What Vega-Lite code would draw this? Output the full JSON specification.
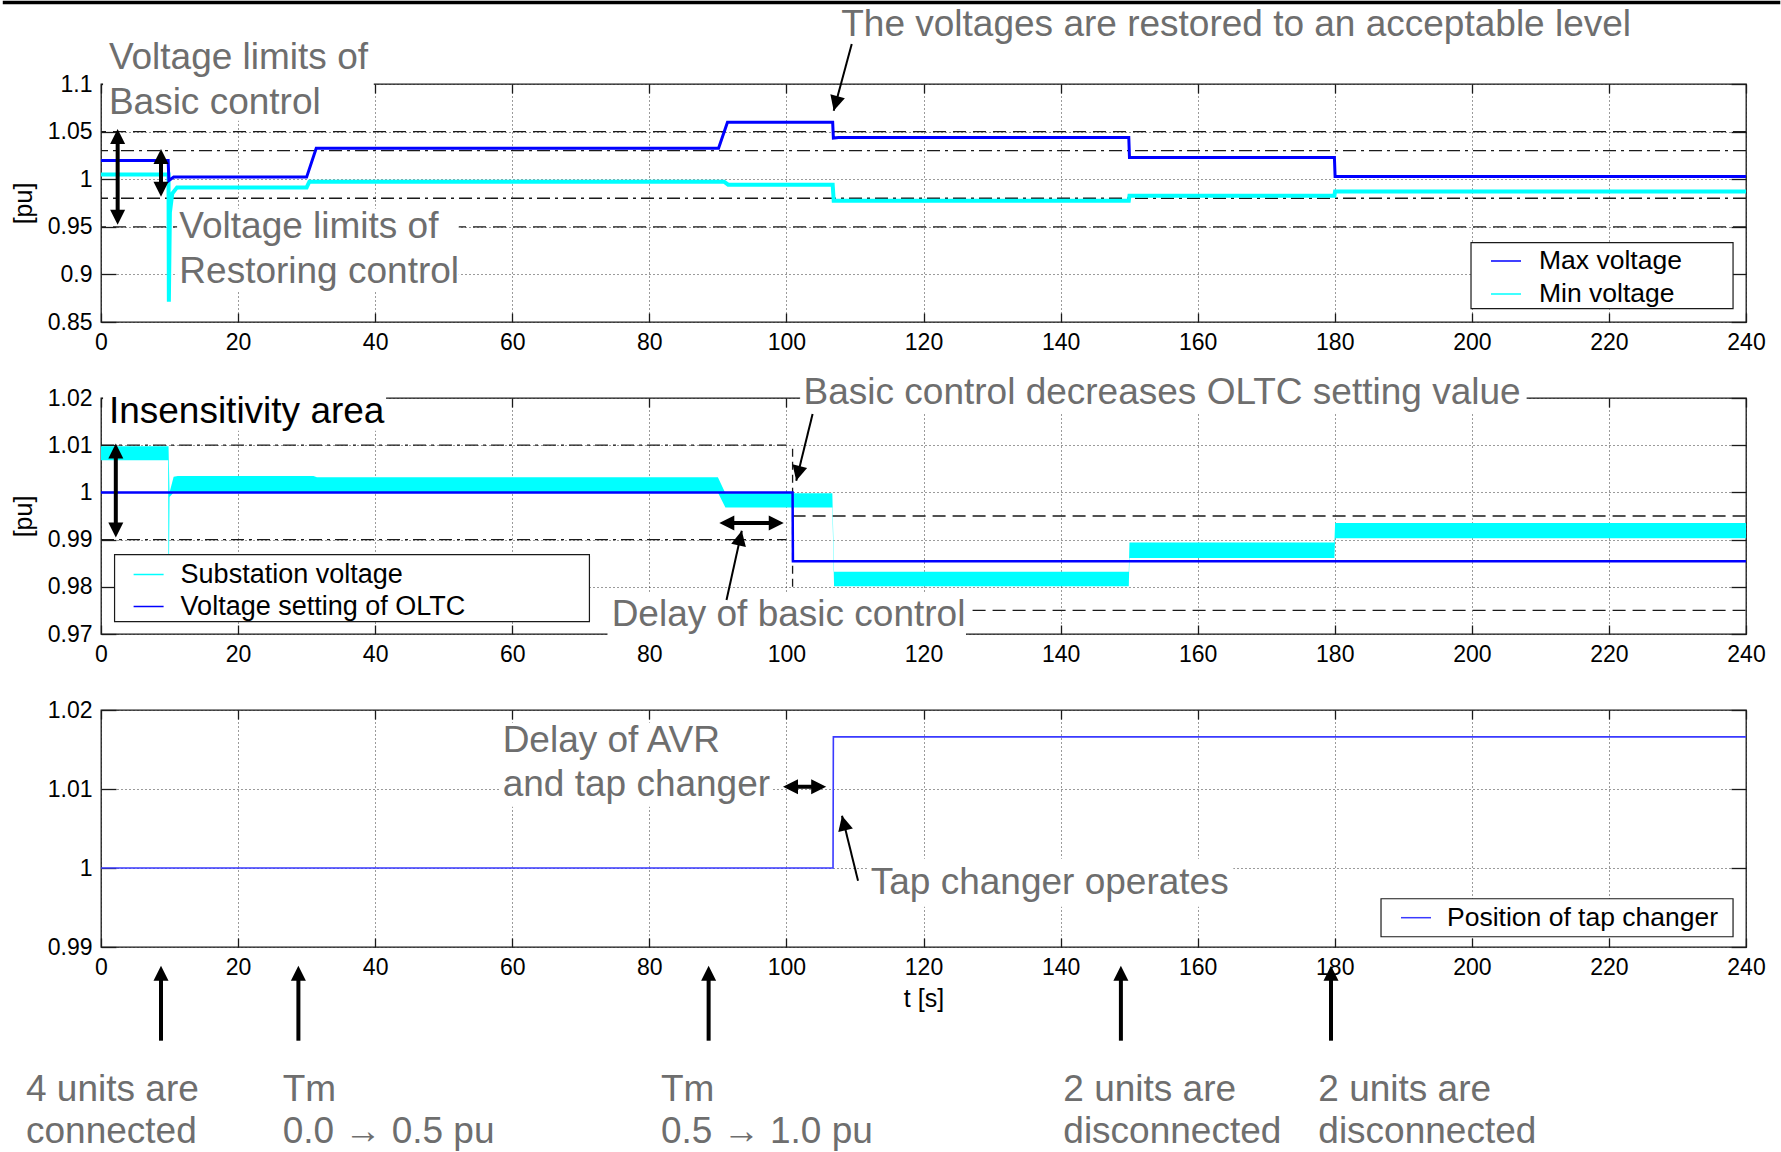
{
  "padding": 0,
  "background": "white",
  "autosize": {"type": "pad"},
  "spacing": 76,
  "bounds": "flush",
  "config": {
    "font": "Liberation Sans",
    "view": {"stroke": "#1a1a1a", "strokeWidth": 1.3},
    "axis": {
      "domain": false, "grid": true, "gridColor": "#222222", "gridDash": [1, 3], "gridWidth": 1, "gridOpacity": 0.9,
      "tickColor": "#1a1a1a", "tickWidth": 1.3,
      "labelFont": "Liberation Sans", "labelFontSize": 23, "labelColor": "#000000",
      "labelFlush": false, "labelOverlap": false,
      "titleFont": "Liberation Sans", "titleFontSize": 25, "titleFontWeight": "normal", "titleColor": "#000000"
    },
    "axisX": {"tickSize": -9, "labelPadding": 18},
    "axisY": {"tickSize": -15, "labelPadding": 24},
    "legend": {"labelFont": "Liberation Sans", "labelColor": "#000000", "strokeColor": "transparent", "fillColor": "transparent", "symbolType": "stroke", "symbolStrokeWidth": 1.5, "labelLimit": 1000}
  },
  "resolve": {"scale": {"color": "independent", "x": "independent", "y": "independent"}, "legend": {"color": "independent"}},
  "datasets": {
    "p1": [
      {"t": 0, "v": 1.0197, "s": "Max voltage"}, {"t": 9.8, "v": 1.0197, "s": "Max voltage"}, {"t": 9.9, "v": 0.9985, "s": "Max voltage"},
      {"t": 10.6, "v": 1.0022, "s": "Max voltage"}, {"t": 30.0, "v": 1.0022, "s": "Max voltage"}, {"t": 31.4, "v": 1.0324, "s": "Max voltage"},
      {"t": 90.1, "v": 1.0324, "s": "Max voltage"}, {"t": 91.4, "v": 1.0597, "s": "Max voltage"}, {"t": 106.75, "v": 1.0597, "s": "Max voltage"},
      {"t": 106.85, "v": 1.0432, "s": "Max voltage"}, {"t": 107.6, "v": 1.0439, "s": "Max voltage"}, {"t": 149.95, "v": 1.0439, "s": "Max voltage"},
      {"t": 150.05, "v": 1.0229, "s": "Max voltage"}, {"t": 179.95, "v": 1.0229, "s": "Max voltage"}, {"t": 180.05, "v": 1.0029, "s": "Max voltage"},
      {"t": 240, "v": 1.0029, "s": "Max voltage"},
      {"t": 0, "v": 1.005, "s": "Min voltage"}, {"t": 9.85, "v": 1.005, "s": "Min voltage"}, {"t": 9.9, "v": 0.8713, "s": "Min voltage"},
      {"t": 10.05, "v": 0.965, "s": "Min voltage"}, {"t": 10.4, "v": 0.985, "s": "Min voltage"}, {"t": 11.1, "v": 0.9914, "s": "Min voltage"},
      {"t": 30.0, "v": 0.9914, "s": "Min voltage"}, {"t": 30.4, "v": 0.9974, "s": "Min voltage"}, {"t": 90.9, "v": 0.9974, "s": "Min voltage"},
      {"t": 91.5, "v": 0.9942, "s": "Min voltage"}, {"t": 106.75, "v": 0.9942, "s": "Min voltage"}, {"t": 106.9, "v": 0.9774, "s": "Min voltage"},
      {"t": 149.95, "v": 0.9774, "s": "Min voltage"}, {"t": 150.05, "v": 0.9827, "s": "Min voltage"}, {"t": 179.95, "v": 0.9827, "s": "Min voltage"},
      {"t": 180.05, "v": 0.9872, "s": "Min voltage"}, {"t": 240, "v": 0.9872, "s": "Min voltage"}
    ],
    "band2": [
      {"t": 0, "v": 1.0068, "v2": 1.0098}, {"t": 9.8, "v": 1.0068, "v2": 1.0098}, {"t": 9.85, "v": 0.9722, "v2": 1.0098},
      {"t": 10.0, "v": 0.999, "v2": 1.0}, {"t": 10.6, "v": 1.0, "v2": 1.0033}, {"t": 11.2, "v": 1.0, "v2": 1.0035},
      {"t": 31.0, "v": 1.0, "v2": 1.0035}, {"t": 31.5, "v": 1.0, "v2": 1.0032}, {"t": 90.0, "v": 1.0, "v2": 1.0032},
      {"t": 91.1, "v": 0.9968, "v2": 0.9998}, {"t": 106.7, "v": 0.9968, "v2": 0.9998}, {"t": 106.95, "v": 0.9801, "v2": 0.9832},
      {"t": 149.95, "v": 0.9801, "v2": 0.9832}, {"t": 150.05, "v": 0.9861, "v2": 0.9894}, {"t": 179.95, "v": 0.9861, "v2": 0.9894},
      {"t": 180.05, "v": 0.9903, "v2": 0.9935}, {"t": 240, "v": 0.9903, "v2": 0.9935}
    ],
    "oltc2": [
      {"t": 0, "v": 1.0, "s": "Voltage setting of OLTC"}, {"t": 100.9, "v": 1.0, "s": "Voltage setting of OLTC"},
      {"t": 100.95, "v": 0.9854, "s": "Voltage setting of OLTC"}, {"t": 240, "v": 0.9854, "s": "Voltage setting of OLTC"}
    ],
    "tap3": [
      {"t": 0, "v": 1.0, "s": "Position of tap changer"}, {"t": 106.8, "v": 1.0, "s": "Position of tap changer"},
      {"t": 106.85, "v": 1.0166, "s": "Position of tap changer"}, {"t": 240, "v": 1.0166, "s": "Position of tap changer"}
    ],
    "box1": [{"t": 199.88, "t2": 238.11, "v": 0.9333, "v2": 0.86397}],
    "box2": [{"t": 1.98, "t2": 71.26, "v": 0.9868, "v2": 0.97261}],
    "box3": [{"t": 186.75, "t2": 238.11, "v": 0.99611, "v2": 0.9913}],
    "abox1": [
      {"t": 0.3, "t2": 39.8, "v": 1.156, "v2": 1.0614},
      {"t": 11.1, "t2": 52.2, "v": 0.969, "v2": 0.8829}
    ],
    "abox2": [
      {"t": 0.3, "t2": 41.6, "v": 1.02112, "v2": 1.01307},
      {"t": 102.0, "t2": 208.0, "v": 1.02451, "v2": 1.0169},
      {"t": 73.9, "t2": 126.2, "v": 0.97854, "v2": 0.96922}
    ],
    "abox3": [
      {"t": 58.1, "t2": 98.0, "v": 1.01839, "v2": 1.00776},
      {"t": 111.8, "t2": 165.2, "v": 1.00118, "v2": 0.9951}
    ],
    "ann1": [
      {"t": 1.15, "v": 1.11576, "txt": "Voltage limits of"},
      {"t": 1.15, "v": 1.06849, "txt": "Basic control"},
      {"t": 11.43, "v": 0.93824, "txt": "Voltage limits of"},
      {"t": 11.43, "v": 0.89055, "txt": "Restoring control"},
      {"t": 108.0, "v": 1.15074, "txt": "The voltages are restored to an acceptable level"}
    ],
    "ann2": [
      {"t": 102.5, "v": 1.01873, "txt": "Basic control decreases OLTC setting value"},
      {"t": 74.5, "v": 0.97176, "txt": "Delay of basic control"}
    ],
    "ann2b": [{"t": 1.15, "v": 1.01462, "txt": "Insensitivity area"}],
    "ann3": [
      {"t": 58.6, "v": 1.01463, "txt": "Delay of AVR"},
      {"t": 58.6, "v": 1.00915, "txt": "and tap changer"},
      {"t": 112.3, "v": 0.99671, "txt": "Tap changer operates"},
      {"t": -10.94, "v": 0.970456, "txt": "4 units are"}, {"t": -10.94, "v": 0.965165, "txt": "connected"},
      {"t": 26.5, "v": 0.970456, "txt": "Tm"}, {"t": 26.5, "v": 0.965165, "txt": "0.0 → 0.5 pu"},
      {"t": 81.7, "v": 0.970456, "txt": "Tm"}, {"t": 81.7, "v": 0.965165, "txt": "0.5 → 1.0 pu"},
      {"t": 140.4, "v": 0.970456, "txt": "2 units are"}, {"t": 140.4, "v": 0.965165, "txt": "disconnected"},
      {"t": 177.6, "v": 0.970456, "txt": "2 units are"}, {"t": 177.6, "v": 0.965165, "txt": "disconnected"}
    ],
    "thick1": [
      {"t": 2.43, "v": 1.04643, "t2": 2.43, "v2": 0.95851},
      {"t": 8.75, "v": 1.02542, "t2": 8.75, "v2": 0.98792}
    ],
    "thin1": [{"t": 109.53, "v": 1.14202, "t2": 106.9, "v2": 1.07195}],
    "heads1": [
      {"t": 2.43, "v": 1.05273, "ang": 0}, {"t": 2.43, "v": 0.95221, "ang": 180},
      {"t": 8.75, "v": 1.03172, "ang": 0}, {"t": 8.75, "v": 0.98162, "ang": 180},
      {"t": 106.9, "v": 1.07195, "ang": 195.1}
    ],
    "thick2": [
      {"t": 2.16, "v": 1.00911, "t2": 2.16, "v2": 0.99174},
      {"t": 91.085, "v": 0.99352, "t2": 98.735, "v2": 0.99352}
    ],
    "thin2": [
      {"t": 103.82, "v": 1.01661, "t2": 101.43, "v2": 1.00248},
      {"t": 91.26, "v": 0.9772, "t2": 93.49, "v2": 0.99189}
    ],
    "heads2": [
      {"t": 2.16, "v": 1.01038, "ang": 0}, {"t": 2.16, "v": 0.99047, "ang": 180},
      {"t": 90.21, "v": 0.99352, "ang": 270}, {"t": 99.61, "v": 0.99352, "ang": 90},
      {"t": 101.43, "v": 1.00248, "ang": 193.8}, {"t": 93.49, "v": 0.99189, "ang": 12.45}
    ],
    "thick3": [
      {"t": 100.375, "v": 1.01029, "t2": 104.925, "v2": 1.01029},
      {"t": 8.75, "v": 0.97814, "t2": 8.75, "v2": 0.98687},
      {"t": 28.8, "v": 0.97814, "t2": 28.8, "v2": 0.98687},
      {"t": 88.65, "v": 0.97814, "t2": 88.65, "v2": 0.98687},
      {"t": 148.8, "v": 0.97814, "t2": 148.8, "v2": 0.98687},
      {"t": 179.45, "v": 0.97814, "t2": 179.45, "v2": 0.98687}
    ],
    "thin3": [{"t": 110.45, "v": 0.99839, "t2": 108.11, "v2": 1.00662}],
    "heads3": [
      {"t": 99.5, "v": 1.01029, "ang": 270}, {"t": 105.8, "v": 1.01029, "ang": 90},
      {"t": 108.11, "v": 1.00662, "ang": 346.2},
      {"t": 8.75, "v": 0.98763, "ang": 0}, {"t": 28.8, "v": 0.98763, "ang": 0}, {"t": 88.65, "v": 0.98763, "ang": 0},
      {"t": 148.8, "v": 0.98763, "ang": 0}, {"t": 179.45, "v": 0.98763, "ang": 0}
    ]
  },
  "vconcat": [
    {
      "width": 1645, "height": 238,
      "resolve": {"axis": {"x": "independent", "y": "independent"}},
      "layer": [
        {"layer": [
          {"data": {"values": [{"v": 1.05}, {"v": 0.95}]}, "mark": {"type": "rule", "color": "#1a1a1a", "strokeWidth": 1.3, "strokeDash": [13, 7]}, "encoding": {"y": {"field": "v", "type": "quantitative"}}},
          {"data": {"values": [{"v": 1.03}, {"v": 0.98}]}, "mark": {"type": "rule", "color": "#1a1a1a", "strokeWidth": 1.3, "strokeDash": [13, 5, 3, 5]}, "encoding": {"y": {"field": "v", "type": "quantitative"}}},
          {"data": {"name": "abox1"}, "mark": {"type": "rect", "fill": "white", "strokeWidth": 0},
           "encoding": {"x": {"field": "t", "type": "quantitative"}, "x2": {"field": "t2"}, "y": {"field": "v", "type": "quantitative"}, "y2": {"field": "v2"}}},
          {"data": {"name": "p1"}, "transform": [{"filter": "datum.s === 'Min voltage'"}], "mark": {"type": "line"},
           "encoding": {
             "x": {"field": "t", "type": "quantitative", "scale": {"domain": [0, 240], "nice": false, "zero": false}, "axis": {"values": [0, 20, 40, 60, 80, 100, 120, 140, 160, 180, 200, 220, 240], "title": null}},
             "y": {"field": "v", "type": "quantitative", "scale": {"domain": [0.85, 1.1], "nice": false, "zero": false}, "axis": {"values": [0.85, 0.9, 0.95, 1, 1.05, 1.1], "format": "~g", "title": "[pu]", "titlePadding": 11}},
             "color": {"field": "s", "type": "nominal", "scale": {"domain": ["Max voltage", "Min voltage"], "range": ["#0000ff", "#00ffff"]},
               "legend": {"orient": "none", "legendX": 1370, "legendY": 159, "title": null, "padding": 2, "rowPadding": 3, "symbolSize": 900, "symbolStrokeWidth": 1.5, "symbolOffset": 17, "labelOffset": 17, "labelFontSize": 26.5}},
             "strokeWidth": {"value": 4}
           }},
          {"data": {"name": "p1"}, "transform": [{"filter": "datum.s === 'Max voltage'"}], "mark": {"type": "line"},
           "encoding": {"x": {"field": "t", "type": "quantitative"}, "y": {"field": "v", "type": "quantitative"}, "color": {"field": "s", "type": "nominal"}, "strokeWidth": {"value": 3}}},
          {"data": {"name": "box1"}, "mark": {"type": "rect", "fill": "white", "stroke": "#1a1a1a", "strokeWidth": 1.2},
           "encoding": {"x": {"field": "t", "type": "quantitative"}, "x2": {"field": "t2"}, "y": {"field": "v", "type": "quantitative"}, "y2": {"field": "v2"}}},
          {"data": {"name": "thick1"}, "mark": {"type": "rule", "color": "#000000", "strokeWidth": 4},
           "encoding": {"x": {"field": "t", "type": "quantitative"}, "y": {"field": "v", "type": "quantitative"}, "x2": {"field": "t2"}, "y2": {"field": "v2"}}},
          {"data": {"name": "thin1"}, "mark": {"type": "rule", "color": "#000000", "strokeWidth": 2},
           "encoding": {"x": {"field": "t", "type": "quantitative"}, "y": {"field": "v", "type": "quantitative"}, "x2": {"field": "t2"}, "y2": {"field": "v2"}}},
          {"data": {"name": "heads1"}, "mark": {"type": "point", "shape": "M0,0L-0.5,1L0.5,1Z", "filled": true, "color": "#000000", "size": 900, "opacity": 1, "strokeWidth": 0},
           "encoding": {"x": {"field": "t", "type": "quantitative"}, "y": {"field": "v", "type": "quantitative"}, "angle": {"field": "ang", "type": "quantitative", "scale": {"domain": [0, 360], "range": [0, 360]}}}},
          {"data": {"name": "ann1"}, "mark": {"type": "text", "align": "left", "baseline": "alphabetic", "fontSize": 37, "color": "#6e6e6e"},
           "encoding": {"x": {"field": "t", "type": "quantitative"}, "y": {"field": "v", "type": "quantitative"}, "text": {"field": "txt"}}},
          {"data": {"values": [{}]}, "mark": {"type": "rule", "color": "#000000", "strokeWidth": 3.5},
           "encoding": {"x": {"datum": -14.33, "type": "quantitative"}, "x2": {"datum": 245.0}, "y": {"datum": 1.18566, "type": "quantitative"}}}
        ]},
        {"data": {"values": [{"t": 0, "v": 1}]}, "mark": {"type": "point", "opacity": 0},
         "encoding": {
           "x": {"field": "t", "type": "quantitative", "scale": {"domain": [0, 240], "nice": false, "zero": false}, "axis": {"orient": "top", "values": [0, 20, 40, 60, 80, 100, 120, 140, 160, 180, 200, 220, 240], "labels": false, "grid": false, "title": null, "tickSize": -9}},
           "y": {"field": "v", "type": "quantitative", "scale": {"domain": [0.85, 1.1], "nice": false, "zero": false}, "axis": {"orient": "right", "values": [0.85, 0.9, 0.95, 1, 1.05, 1.1], "labels": false, "grid": false, "title": null, "tickSize": -15}}
         }}
      ]
    },
    {
      "width": 1645, "height": 236,
      "resolve": {"axis": {"x": "independent", "y": "independent"}},
      "layer": [
        {"layer": [
          {"data": {"values": [{"t": 0, "t2": 100, "v": 1.01}, {"t": 0, "t2": 100, "v": 0.99}]}, "mark": {"type": "rule", "color": "#1a1a1a", "strokeWidth": 1.3, "strokeDash": [13, 5, 3, 5]},
           "encoding": {"x": {"field": "t", "type": "quantitative"}, "x2": {"field": "t2"}, "y": {"field": "v", "type": "quantitative"}}},
          {"data": {"values": [{"t": 100.9, "t2": 240, "v": 0.995}, {"t": 100.9, "t2": 240, "v": 0.975}]}, "mark": {"type": "rule", "color": "#1a1a1a", "strokeWidth": 1.3, "strokeDash": [13, 7]},
           "encoding": {"x": {"field": "t", "type": "quantitative"}, "x2": {"field": "t2"}, "y": {"field": "v", "type": "quantitative"}}},
          {"data": {"values": [{"t": 100.9, "v": 0.98, "v2": 1.01}]}, "mark": {"type": "rule", "color": "#1a1a1a", "strokeWidth": 1.3, "strokeDash": [8, 5]},
           "encoding": {"x": {"field": "t", "type": "quantitative"}, "y": {"field": "v", "type": "quantitative"}, "y2": {"field": "v2"}}},
          {"data": {"name": "abox2"}, "mark": {"type": "rect", "fill": "white", "strokeWidth": 0},
           "encoding": {"x": {"field": "t", "type": "quantitative"}, "x2": {"field": "t2"}, "y": {"field": "v", "type": "quantitative"}, "y2": {"field": "v2"}}},
          {"data": {"name": "band2"}, "mark": {"type": "area", "color": "#00ffff", "opacity": 1},
           "encoding": {"x": {"field": "t", "type": "quantitative"}, "y": {"field": "v", "type": "quantitative"}, "y2": {"field": "v2"}}},
          {"data": {"name": "oltc2"}, "mark": {"type": "line"},
           "encoding": {
             "x": {"field": "t", "type": "quantitative", "scale": {"domain": [0, 240], "nice": false, "zero": false}, "axis": {"values": [0, 20, 40, 60, 80, 100, 120, 140, 160, 180, 200, 220, 240], "title": null}},
             "y": {"field": "v", "type": "quantitative", "scale": {"domain": [0.97, 1.02], "nice": false, "zero": false}, "axis": {"values": [0.97, 0.98, 0.99, 1, 1.01, 1.02], "format": "~g", "title": "[pu]", "titlePadding": 11}},
             "color": {"field": "s", "type": "nominal", "scale": {"domain": ["Substation voltage", "Voltage setting of OLTC"], "range": ["#00ffff", "#0000ff"]},
               "legend": {"orient": "none", "legendX": 13.6, "legendY": 157.5, "title": null, "padding": 3, "rowPadding": 3, "symbolSize": 900, "symbolStrokeWidth": 1.5, "symbolOffset": 15, "labelOffset": 16, "labelFontSize": 27}},
             "strokeWidth": {"value": 2.5}
           }},
          {"data": {"name": "box2"}, "mark": {"type": "rect", "fill": "white", "stroke": "#1a1a1a", "strokeWidth": 1.2},
           "encoding": {"x": {"field": "t", "type": "quantitative"}, "x2": {"field": "t2"}, "y": {"field": "v", "type": "quantitative"}, "y2": {"field": "v2"}}},
          {"data": {"name": "thick2"}, "mark": {"type": "rule", "color": "#000000", "strokeWidth": 4},
           "encoding": {"x": {"field": "t", "type": "quantitative"}, "y": {"field": "v", "type": "quantitative"}, "x2": {"field": "t2"}, "y2": {"field": "v2"}}},
          {"data": {"name": "thin2"}, "mark": {"type": "rule", "color": "#000000", "strokeWidth": 2},
           "encoding": {"x": {"field": "t", "type": "quantitative"}, "y": {"field": "v", "type": "quantitative"}, "x2": {"field": "t2"}, "y2": {"field": "v2"}}},
          {"data": {"name": "heads2"}, "mark": {"type": "point", "shape": "M0,0L-0.5,1L0.5,1Z", "filled": true, "color": "#000000", "size": 900, "opacity": 1, "strokeWidth": 0},
           "encoding": {"x": {"field": "t", "type": "quantitative"}, "y": {"field": "v", "type": "quantitative"}, "angle": {"field": "ang", "type": "quantitative", "scale": {"domain": [0, 360], "range": [0, 360]}}}},
          {"data": {"name": "ann2"}, "mark": {"type": "text", "align": "left", "baseline": "alphabetic", "fontSize": 37, "color": "#6e6e6e"},
           "encoding": {"x": {"field": "t", "type": "quantitative"}, "y": {"field": "v", "type": "quantitative"}, "text": {"field": "txt"}}},
          {"data": {"name": "ann2b"}, "mark": {"type": "text", "align": "left", "baseline": "alphabetic", "fontSize": 37, "color": "#000000"},
           "encoding": {"x": {"field": "t", "type": "quantitative"}, "y": {"field": "v", "type": "quantitative"}, "text": {"field": "txt"}}}
        ]},
        {"data": {"values": [{"t": 0, "v": 1}]}, "mark": {"type": "point", "opacity": 0},
         "encoding": {
           "x": {"field": "t", "type": "quantitative", "scale": {"domain": [0, 240], "nice": false, "zero": false}, "axis": {"orient": "top", "values": [0, 20, 40, 60, 80, 100, 120, 140, 160, 180, 200, 220, 240], "labels": false, "grid": false, "title": null, "tickSize": -9}},
           "y": {"field": "v", "type": "quantitative", "scale": {"domain": [0.97, 1.02], "nice": false, "zero": false}, "axis": {"orient": "right", "values": [0.97, 0.98, 0.99, 1, 1.01, 1.02], "labels": false, "grid": false, "title": null, "tickSize": -15}}
         }}
      ]
    },
    {
      "width": 1645, "height": 237,
      "resolve": {"axis": {"x": "independent", "y": "independent"}},
      "layer": [
        {"layer": [
          {"data": {"name": "abox3"}, "mark": {"type": "rect", "fill": "white", "strokeWidth": 0},
           "encoding": {"x": {"field": "t", "type": "quantitative"}, "x2": {"field": "t2"}, "y": {"field": "v", "type": "quantitative"}, "y2": {"field": "v2"}}},
          {"data": {"name": "tap3"}, "mark": {"type": "line"},
           "encoding": {
             "x": {"field": "t", "type": "quantitative", "scale": {"domain": [0, 240], "nice": false, "zero": false}, "axis": {"values": [0, 20, 40, 60, 80, 100, 120, 140, 160, 180, 200, 220, 240], "title": "t [s]", "titlePadding": 7}},
             "y": {"field": "v", "type": "quantitative", "scale": {"domain": [0.99, 1.02], "nice": false, "zero": false}, "axis": {"values": [0.99, 1, 1.01, 1.02], "format": "~g", "title": null}},
             "color": {"field": "s", "type": "nominal", "scale": {"domain": ["Position of tap changer"], "range": ["#3a3aff"]},
               "legend": {"orient": "none", "legendX": 1280, "legendY": 188.7, "title": null, "padding": 3, "rowPadding": 0, "symbolSize": 900, "symbolStrokeWidth": 1.5, "symbolOffset": 16, "labelOffset": 15, "labelFontSize": 26.5}},
             "strokeWidth": {"value": 1.6}
           }},
          {"data": {"name": "box3"}, "mark": {"type": "rect", "fill": "white", "stroke": "#1a1a1a", "strokeWidth": 1.2},
           "encoding": {"x": {"field": "t", "type": "quantitative"}, "x2": {"field": "t2"}, "y": {"field": "v", "type": "quantitative"}, "y2": {"field": "v2"}}},
          {"data": {"name": "thick3"}, "mark": {"type": "rule", "color": "#000000", "strokeWidth": 4},
           "encoding": {"x": {"field": "t", "type": "quantitative"}, "y": {"field": "v", "type": "quantitative"}, "x2": {"field": "t2"}, "y2": {"field": "v2"}}},
          {"data": {"name": "thin3"}, "mark": {"type": "rule", "color": "#000000", "strokeWidth": 2},
           "encoding": {"x": {"field": "t", "type": "quantitative"}, "y": {"field": "v", "type": "quantitative"}, "x2": {"field": "t2"}, "y2": {"field": "v2"}}},
          {"data": {"name": "heads3"}, "mark": {"type": "point", "shape": "M0,0L-0.5,1L0.5,1Z", "filled": true, "color": "#000000", "size": 900, "opacity": 1, "strokeWidth": 0},
           "encoding": {"x": {"field": "t", "type": "quantitative"}, "y": {"field": "v", "type": "quantitative"}, "angle": {"field": "ang", "type": "quantitative", "scale": {"domain": [0, 360], "range": [0, 360]}}}},
          {"data": {"name": "ann3"}, "mark": {"type": "text", "align": "left", "baseline": "alphabetic", "fontSize": 37, "color": "#6e6e6e"},
           "encoding": {"x": {"field": "t", "type": "quantitative"}, "y": {"field": "v", "type": "quantitative"}, "text": {"field": "txt"}}}
        ]},
        {"data": {"values": [{"t": 0, "v": 1}]}, "mark": {"type": "point", "opacity": 0},
         "encoding": {
           "x": {"field": "t", "type": "quantitative", "scale": {"domain": [0, 240], "nice": false, "zero": false}, "axis": {"orient": "top", "values": [0, 20, 40, 60, 80, 100, 120, 140, 160, 180, 200, 220, 240], "labels": false, "grid": false, "title": null, "tickSize": -9}},
           "y": {"field": "v", "type": "quantitative", "scale": {"domain": [0.99, 1.02], "nice": false, "zero": false}, "axis": {"orient": "right", "values": [0.99, 1, 1.01, 1.02], "labels": false, "grid": false, "title": null, "tickSize": -15}}
         }}
      ]
    }
  ]
}
